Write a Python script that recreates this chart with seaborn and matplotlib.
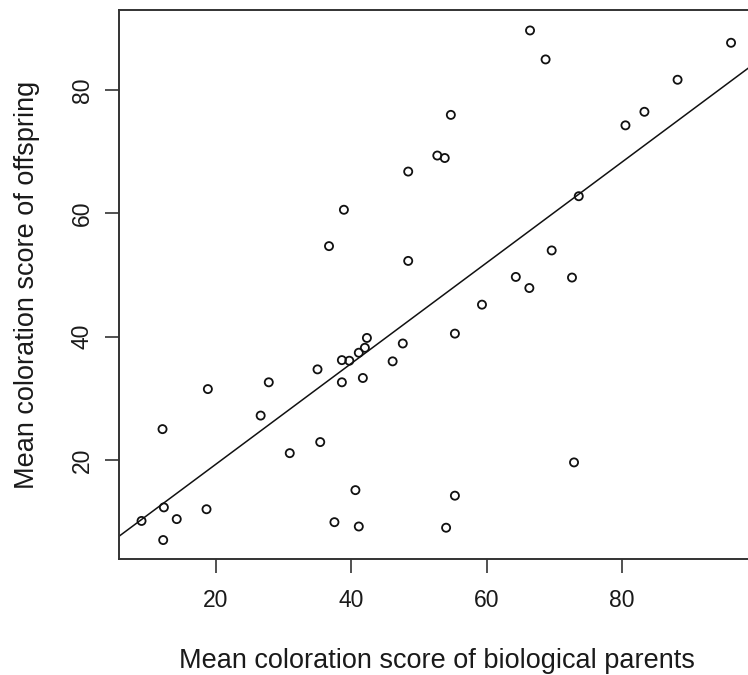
import seaborn as sns
import matplotlib.pyplot as plt
import pandas as pd

# Mean coloration scores
parent_score = [9.0, 12.2, 12.3, 14.2, 12.1, 18.6, 18.8, 26.6, 27.8, 30.9,
                35.0, 35.4, 37.5, 40.6, 41.1, 38.6, 41.7, 38.6, 39.7, 41.1,
                42.0, 42.3, 46.1, 47.6, 55.3, 55.3, 54.0, 72.9, 59.3, 64.3,
                66.3, 72.6, 69.6, 48.4, 73.6, 48.4, 52.7, 53.8, 54.7, 66.4,
                68.7, 80.5, 83.3, 88.2, 96.1, 38.9, 36.7]
offspring_score = [10.1, 7.0, 12.3, 10.4, 25.0, 12.0, 31.5, 27.2, 32.6, 21.1,
                   34.7, 22.9, 9.9, 15.1, 9.2, 32.6, 33.3, 36.2, 36.1, 37.4,
                   38.2, 39.8, 36.0, 38.9, 40.5, 14.2, 9.0, 19.6, 45.2, 49.7,
                   47.9, 49.6, 54.0, 52.3, 62.8, 66.8, 69.4, 69.0, 76.0, 89.7,
                   85.0, 74.3, 76.5, 81.7, 87.7, 60.6, 54.7]

x_ticks = [20, 40, 60, 80]
y_ticks = [20, 40, 60, 80]

df = pd.DataFrame({'parents': parent_score, 'offspring': offspring_score})

sns.set_style('ticks')
plt.rcParams['font.family'] = ['Liberation Sans', 'DejaVu Sans']

fig = plt.figure(figsize=(7.48, 6.75), dpi=100)
# the right edge of the frame falls just outside the image, as in the source
ax = fig.add_axes([0.159, 0.172, 0.850, 0.813])
ax.set_xlim(5.66, 99.6)
ax.set_ylim(3.94, 93.0)

sns.regplot(data=df, x='parents', y='offspring', ax=ax, ci=None, truncate=False,
            marker='o',
            scatter_kws=dict(s=34, facecolors='none', edgecolors='#111111',
                             linewidths=1.3, alpha=1),
            line_kws=dict(color='#111111', lw=1.1))

ax.set_xlim(5.66, 99.6)
ax.set_ylim(3.94, 93.0)
ax.set_xticks(x_ticks)
ax.set_yticks(y_ticks)

for side in ['left', 'top', 'bottom', 'right']:
    ax.spines[side].set_color('#333333')
    ax.spines[side].set_linewidth(1.4)

ax.tick_params(axis='both', length=10, width=1.2, color='#333333',
               labelsize=16.5, labelcolor='#1a1a1a')
ax.tick_params(axis='x', pad=12)
ax.tick_params(axis='y', pad=8, labelrotation=90)
for lab in ax.get_yticklabels():
    lab.set_va('center')

ax.set_xlabel('Mean coloration score of biological parents', fontsize=19.5, color='#1a1a1a')
ax.set_ylabel('Mean coloration score of offspring', fontsize=19.5, color='#1a1a1a')
ax.xaxis.set_label_coords(0.5, -0.162)
ax.yaxis.set_label_coords(-0.124, 0.5)

plt.savefig('out.png', dpi=100)
